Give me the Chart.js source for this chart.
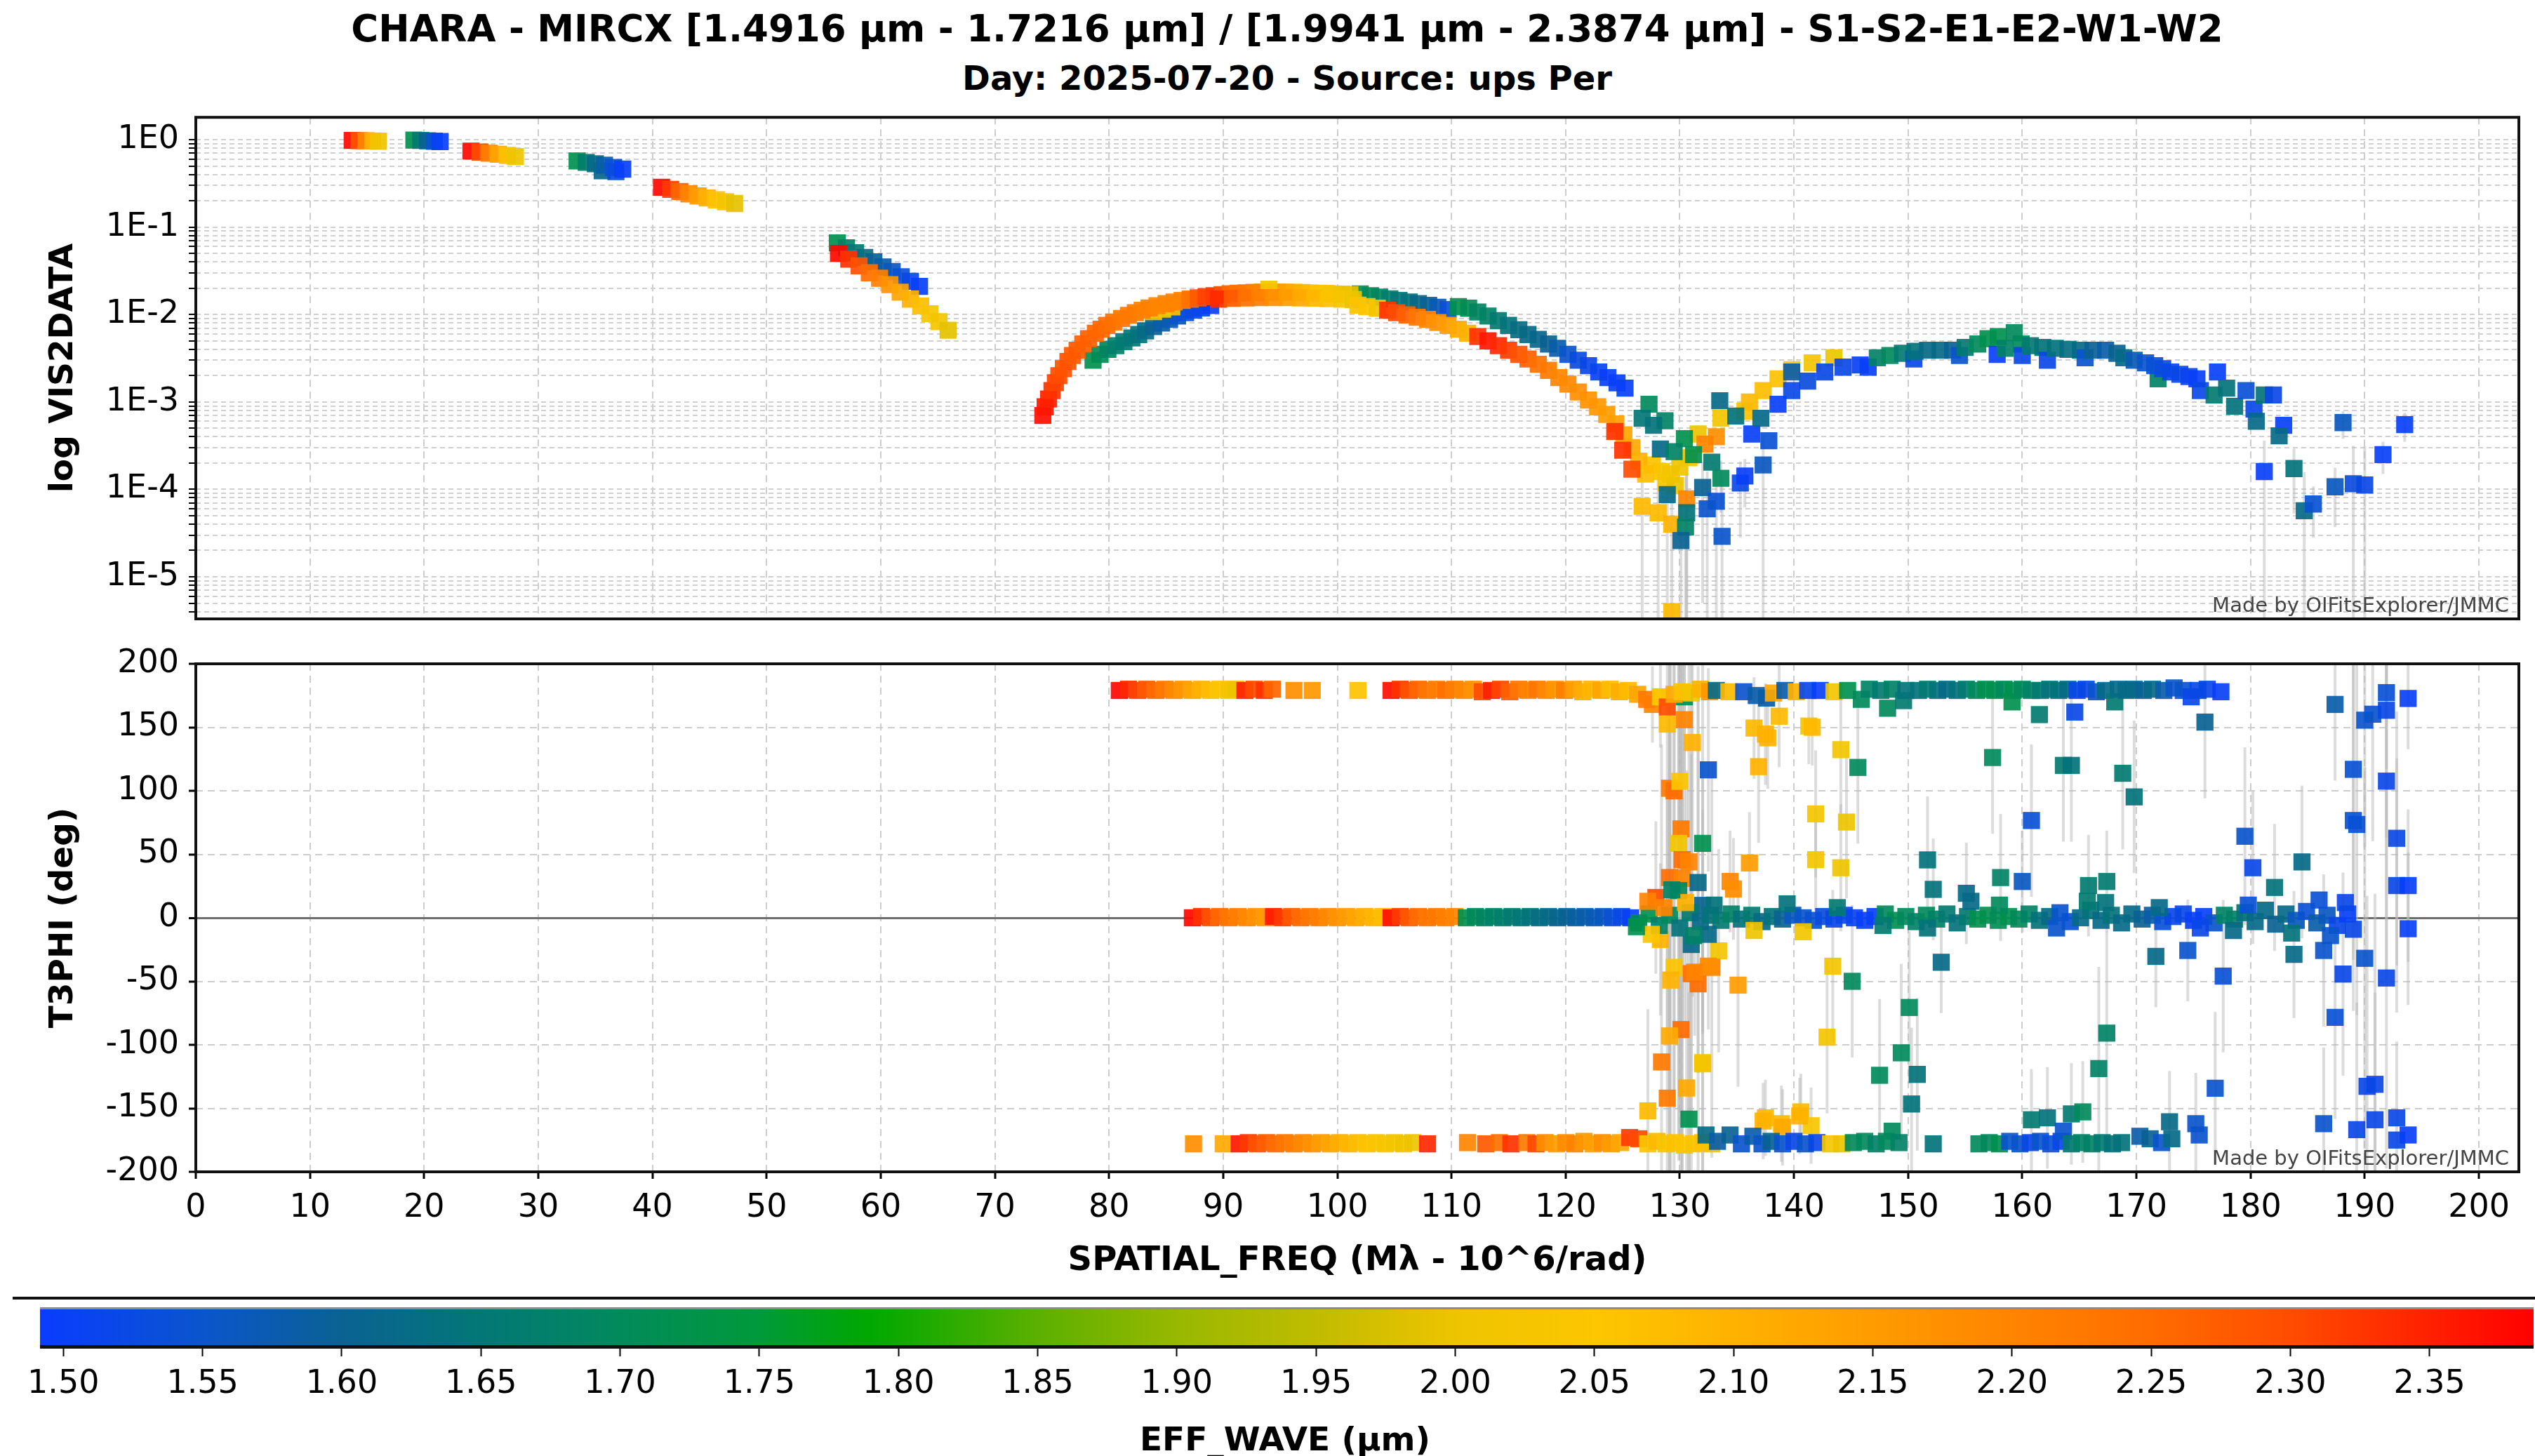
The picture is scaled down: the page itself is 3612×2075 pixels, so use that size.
<!DOCTYPE html>
<html>
<head>
<meta charset="utf-8">
<title>CHARA - MIRCX - ups Per</title>
<script src="https://cdn.jsdelivr.net/npm/chart.js@4.4.1/dist/chart.umd.min.js"></script>
<style>
  html, body { margin: 0; padding: 0; background: #fff; }
  body { width: 3612px; height: 2075px; position: relative; overflow: hidden; font-family: 'DejaVu Sans', sans-serif; }
  .label { position: absolute; transform: translateX(-50%); white-space: nowrap; font-weight: bold; color: #000; line-height: normal; }
  .box { position: absolute; left: 0; width: 3612px; }
</style>
</head>
<body>
<div class="label" style="left:1834px;top:10px;font-size:53px">CHARA - MIRCX [1.4916 µm - 1.7216 µm] / [1.9941 µm - 2.3874 µm] - S1-S2-E1-E2-W1-W2</div>
<div class="label" style="left:1834px;top:83px;font-size:48px">Day: 2025-07-20 - Source: ups Per</div>

<div class="box" style="top:150px;height:750px"><canvas id="vis2"></canvas></div>
<div class="box" style="top:900px;height:930px"><canvas id="t3phi"></canvas></div>
<div style="position:absolute;left:18px;top:1848px;width:3594px;height:4px;background:#111"></div>
<div class="box" style="top:1850px;height:225px"><canvas id="cbar"></canvas></div>
<div class="label" style="left:1831px;top:2023px;font-size:47px">EFF_WAVE (µm)</div>

<script>
// axes
const freqMin = 0, freqMax = 203.5;
const freqTicks = [0, 10, 20, 30, 40, 50, 60, 70, 80, 90, 100, 110, 120, 130, 140, 150, 160, 170, 180, 190, 200];
const phiTicks = [-200, -150, -100, -50, 0, 50, 100, 150, 200];
const v2Min = 3.3e-6, v2Max = 1.8;
const v2Decades = [1e-6, 1e-5, 1e-4, 1e-3, 1e-2, 1e-1, 1];
const v2DecadeLabels = ['1E-6', '1E-5', '1E-4', '1E-3', '1E-2', '1E-1', '1E0'];
const waveMin = 1.4916, waveMax = 2.3874;
const waveTicks = [1.50, 1.55, 1.60, 1.65, 1.70, 1.75, 1.80, 1.85, 1.90, 1.95, 2.00, 2.05, 2.10, 2.15, 2.20, 2.25, 2.30, 2.35];

// colour scale for EFF_WAVE
const waveStops = [1.4916, 1.55, 1.60, 1.65, 1.70, 1.75, 1.79, 1.85, 1.90, 1.95, 2.00, 2.05, 2.10, 2.15, 2.20, 2.25, 2.30, 2.3874];
const waveStopColors = ['#0a3cff', '#0a55cc', '#0a6292', '#037776', '#028a5c', '#00993a', '#00a800', '#5cb000', '#98b800', '#c0bc00', '#eec400', '#fcc600', '#ffb200', '#ff9c00', '#ff8400', '#ff6c00', '#ff4c00', '#ff0000'];

const watermark = 'Made by OIFitsExplorer/JMMC';

// VIS2DATA rows: [spatial freq, vis2, eff_wave, error]
const v2Short = [
  [13.7, 0.98, 2.38], [14.3, 0.975, 2.29], [14.9, 0.97, 2.20], [15.5, 0.965, 2.10], [16.0, 0.96, 2.01],
  [19.1, 0.99, 1.72], [19.7, 0.98, 1.66], [20.3, 0.97, 1.60], [20.9, 0.96, 1.54], [21.4, 0.95, 1.50],
  [24.1, 0.74, 2.38], [24.9, 0.72, 2.30], [25.7, 0.70, 2.21], [26.5, 0.68, 2.13], [27.3, 0.66, 2.06], [28.0, 0.64, 2.00],
  [33.4, 0.57, 1.72], [34.2, 0.55, 1.67], [35.0, 0.53, 1.62], [35.6, 0.44, 1.61], [35.8, 0.51, 1.58], [36.6, 0.48, 1.54], [36.8, 0.43, 1.53], [37.4, 0.46, 1.50],
  [40.8, 0.285, 2.38], [41.6, 0.27, 2.32], [42.4, 0.255, 2.26], [43.2, 0.24, 2.20], [44.0, 0.227, 2.15], [44.8, 0.215, 2.10], [45.6, 0.205, 2.06], [46.4, 0.195, 2.02], [47.2, 0.186, 1.99]
];
const v2MidK = [
  [56.3, 0.050, 2.38], [57.2, 0.043, 2.33], [58.1, 0.036, 2.29], [59.0, 0.030, 2.25], [59.9, 0.026, 2.21], [60.8, 0.022, 2.17],
  [61.7, 0.018, 2.13], [62.6, 0.015, 2.10], [63.5, 0.0125, 2.07], [64.3, 0.0102, 2.04], [65.1, 0.0083, 2.02], [65.9, 0.0066, 1.99]
];
const v2MidH = [
  [56.2, 0.066, 1.72], [57.0, 0.058, 1.69], [57.8, 0.051, 1.66], [58.6, 0.045, 1.63], [59.4, 0.040, 1.60],
  [60.2, 0.035, 1.58], [61.0, 0.031, 1.56], [61.8, 0.027, 1.54], [62.6, 0.024, 1.52], [63.4, 0.021, 1.50]
];
const v2ArcK = [
  [83.9, 0.0108, 2.03], [84.7, 0.0115, 2.02], [85.5, 0.0122, 2.02],
  [74.2, 7.0e-4, 2.37], [74.4, 8.8e-4, 2.36], [74.7, 1.08e-3, 2.35], [75.0, 1.35e-3, 2.33], [75.3, 1.66e-3, 2.31], [75.6, 2.0e-3, 2.30],
  [76.0, 2.4e-3, 2.29], [76.4, 2.9e-3, 2.29], [76.8, 3.4e-3, 2.28], [77.2, 3.9e-3, 2.28], [77.7, 4.6e-3, 2.27], [78.2, 5.3e-3, 2.27],
  [78.8, 6.1e-3, 2.26], [79.3, 6.8e-3, 2.26], [79.8, 7.5e-3, 2.25], [80.4, 8.2e-3, 2.24], [81.1, 9.0e-3, 2.23], [81.7, 9.8e-3, 2.22],
  [82.3, 0.0105, 2.22], [82.9, 0.0112, 2.21], [83.5, 0.0119, 2.21], [84.2, 0.0126, 2.20], [85.0, 0.0133, 2.20], [85.7, 0.0139, 2.20],
  [86.4, 0.0145, 2.20], [87.1, 0.0150, 2.24], [87.8, 0.0155, 2.28], [88.5, 0.0160, 2.31], [89.2, 0.0164, 2.32], [89.9, 0.0169, 2.29],
  [90.6, 0.0173, 2.26], [91.3, 0.0175, 2.24], [92.0, 0.0177, 2.23], [92.7, 0.0179, 2.21], [93.4, 0.0180, 2.20], [94.1, 0.0181, 2.18],
  [94.8, 0.0181, 2.16], [95.5, 0.0180, 2.14], [96.2, 0.0179, 2.12], [96.9, 0.0178, 2.10], [97.6, 0.0176, 2.08], [98.3, 0.0175, 2.06],
  [99.0, 0.0174, 2.04], [99.7, 0.0172, 2.02], [100.4, 0.0171, 2.01], [101.1, 0.0169, 1.995], [94.0, 0.0195, 2.02],
  [89.6, 0.0150, 2.34], [90.8, 0.0153, 2.28], [92.0, 0.0155, 2.24], [93.2, 0.0156, 2.21], [94.4, 0.0156, 2.18], [95.6, 0.0156, 2.15],
  [96.8, 0.0155, 2.12], [98.0, 0.0154, 2.09], [99.2, 0.0152, 2.06], [100.4, 0.0150, 2.03], [101.4, 0.0148, 2.00],
  [101.8, 0.0128, 2.06], [102.6, 0.0123, 2.05], [103.5, 0.0118, 2.02], [104.4, 0.0112, 2.33], [105.2, 0.0105, 2.30], [106.1, 0.0099, 2.27],
  [107.0, 0.0093, 2.23], [107.9, 0.0088, 2.20], [108.8, 0.0081, 2.17], [109.7, 0.0075, 2.15], [110.6, 0.0068, 2.12], [111.4, 0.0061, 2.10],
  [112.3, 0.0056, 2.33], [113.2, 5.0e-3, 2.36], [114.1, 4.4e-3, 2.34], [115.0, 3.9e-3, 2.32], [115.9, 3.5e-3, 2.29], [116.7, 3.1e-3, 2.27],
  [117.6, 2.7e-3, 2.24], [118.5, 2.3e-3, 2.22], [119.4, 1.9e-3, 2.20], [120.2, 1.6e-3, 2.19], [121.1, 1.3e-3, 2.18], [122.0, 1.05e-3, 2.17],
  [122.8, 8.8e-4, 2.16], [123.6, 7.2e-4, 2.15], [124.4, 5.6e-4, 2.14], [125.1, 4.2e-4, 2.13], [125.8, 3.0e-4, 2.12], [126.4, 2.1e-4, 2.10],
  [127.0, 1.5e-4, 2.07], [124.3, 4.6e-4, 2.33], [125.0, 2.8e-4, 2.33], [125.8, 1.7e-4, 2.30]
];
const v2ArcH = [
  [78.6, 3.0e-3, 1.72], [79.2, 3.5e-3, 1.71], [79.9, 4.0e-3, 1.69], [80.6, 4.4e-3, 1.67], [81.3, 4.9e-3, 1.66], [82.0, 5.4e-3, 1.65],
  [82.6, 5.9e-3, 1.64], [83.2, 6.5e-3, 1.62], [83.9, 7.3e-3, 1.60], [84.6, 8.0e-3, 1.58], [85.3, 8.8e-3, 1.57], [86.0, 9.6e-3, 1.55],
  [86.7, 0.0105, 1.54], [87.4, 0.0112, 1.52], [88.1, 0.0119, 1.51], [88.9, 0.0127, 1.50],
  [102.0, 0.0172, 1.72], [102.9, 0.0164, 1.70], [103.7, 0.0158, 1.69], [104.6, 0.0151, 1.67], [105.4, 0.0145, 1.65], [106.3, 0.0139, 1.64],
  [107.1, 0.0133, 1.62], [108.0, 0.0127, 1.60], [108.8, 0.0121, 1.57], [109.7, 0.0114, 1.54], [110.6, 0.0123, 1.72], [111.5, 0.0118, 1.71],
  [112.3, 0.0107, 1.69], [113.2, 9.6e-3, 1.68], [114.1, 8.5e-3, 1.66], [115.0, 7.5e-3, 1.64], [115.9, 6.7e-3, 1.63], [116.7, 5.9e-3, 1.62],
  [117.6, 5.2e-3, 1.61], [118.5, 4.6e-3, 1.60], [119.3, 4.1e-3, 1.58], [120.2, 3.5e-3, 1.55], [121.1, 3.0e-3, 1.53], [122.0, 2.6e-3, 1.52],
  [122.9, 2.2e-3, 1.51], [123.7, 1.9e-3, 1.50], [124.5, 1.65e-3, 1.50], [125.2, 1.44e-3, 1.50]
];
const v2Null = [
  [127.6, 1.9e-4, 2.06], [128.4, 1.6e-4, 2.04], [129.2, 1.5e-4, 2.02], [130.0, 1.8e-4, 2.01], [128.8, 1.2e-4, 2.03], [129.6, 1.1e-4, 2.00],
  [130.8, 2.3e-4, 2.02], [126.7, 6.4e-5, 2.08, 1e-4], [128.1, 5.4e-5, 2.08, 1e-4], [129.3, 4.0e-5, 2.10, 1e-4], [130.6, 7.8e-5, 2.20, 1e-4],
  [129.3, 4.0e-6, 2.08], [131.6, 4.3e-4, 2.00], [133.2, 4.0e-4, 2.18], [132.2, 3.3e-4, 2.20], [133.6, 6.5e-4, 2.02],
  [135.7, 7.8e-4, 2.06], [136.1, 1.0e-3, 2.08], [137.3, 1.35e-3, 2.07], [138.6, 1.84e-3, 2.06], [139.8, 2.34e-3, 2.04], [141.6, 2.8e-3, 2.02], [143.5, 3.2e-3, 2.00],
  [127.3, 9.4e-4, 1.70], [126.7, 6.5e-4, 1.65], [128.7, 6.1e-4, 1.68], [127.7, 5.4e-4, 1.64], [130.4, 3.8e-4, 1.72], [128.3, 2.9e-4, 1.62],
  [129.5, 2.7e-4, 1.68], [131.2, 2.5e-4, 1.72], [132.8, 2.05e-4, 1.66], [133.6, 1.34e-4, 1.70, 8e-5], [132.0, 1.05e-4, 1.60, 1e-4],
  [133.2, 7.3e-5, 1.54, 1e-4], [132.4, 6.0e-5, 1.55, 1e-4], [135.3, 1.18e-4, 1.52, 9e-5], [135.7, 1.42e-4, 1.50, 8e-5],
  [128.9, 8.7e-5, 1.62, 1e-4], [130.6, 5.4e-5, 1.64, 1e-4], [130.5, 3.7e-5, 1.68, 1e-4], [130.1, 2.6e-5, 1.60, 1e-4], [133.7, 2.9e-5, 1.55, 1e-4],
  [133.5, 1.03e-3, 1.62], [134.9, 6.9e-4, 1.64], [136.3, 4.3e-4, 1.50], [137.8, 3.6e-4, 1.54], [137.3, 1.9e-4, 1.56, 2e-4], [137.1, 6.5e-4, 1.62],
  [138.6, 9.4e-4, 1.50], [139.8, 1.35e-3, 1.52], [141.2, 1.73e-3, 1.53], [139.8, 2.2e-3, 1.58], [142.7, 2.2e-3, 1.52], [144.3, 2.5e-3, 1.52]
];
const v2Tail = [
  [145.8, 2.65e-3, 1.50], [146.5, 2.5e-3, 1.50], [147.3, 3.2e-3, 1.68], [148.4, 3.4e-3, 1.70], [149.5, 3.6e-3, 1.66], [150.5, 3.1e-3, 1.52],
  [150.6, 3.8e-3, 1.64], [151.7, 3.9e-3, 1.62], [152.8, 3.9e-3, 1.62], [153.9, 3.9e-3, 1.60], [154.5, 3.4e-3, 1.55], [155.0, 4.2e-3, 1.66],
  [156.1, 4.6e-3, 1.70], [157.0, 5.3e-3, 1.72], [157.8, 3.5e-3, 1.50], [157.9, 5.6e-3, 1.72], [158.5, 4.1e-3, 1.68], [159.3, 6.2e-3, 1.70],
  [159.9, 4.6e-3, 1.70], [160.0, 3.4e-3, 1.52], [160.7, 4.4e-3, 1.66], [161.8, 4.2e-3, 1.64], [162.2, 3.0e-3, 1.52], [162.9, 4.1e-3, 1.64],
  [164.0, 4.0e-3, 1.63], [165.1, 3.9e-3, 1.62], [165.5, 3.2e-3, 1.55], [166.2, 3.9e-3, 1.60], [167.3, 3.9e-3, 1.58], [168.3, 3.6e-3, 1.60],
  [168.9, 3.2e-3, 1.62], [169.8, 3.0e-3, 1.57], [170.8, 2.8e-3, 1.55], [171.9, 1.84e-3, 1.68], [171.6, 2.6e-3, 1.54], [172.3, 2.4e-3, 1.53],
  [173.0, 2.2e-3, 1.52], [173.8, 2.07e-3, 1.52], [174.6, 1.95e-3, 1.51], [175.3, 1.84e-3, 1.50], [175.6, 1.35e-3, 1.52], [176.8, 1.2e-3, 1.66],
  [177.1, 2.2e-3, 1.50], [177.9, 1.44e-3, 1.64], [178.6, 8.9e-4, 1.64], [179.6, 1.35e-3, 1.54], [180.3, 8.3e-4, 1.52], [181.2, 1.2e-3, 1.64],
  [182.0, 1.2e-3, 1.52], [180.5, 6.0e-4, 1.62], [182.9, 5.4e-4, 1.50], [182.5, 4.1e-4, 1.62],
  [181.2, 1.6e-4, 1.50, 2e-4], [183.8, 1.73e-4, 1.64, 1.2e-4], [184.7, 5.7e-5, 1.62, 1e-4], [185.5, 6.8e-5, 1.54, 4e-5],
  [187.4, 1.07e-4, 1.56, 7e-5], [189.0, 1.16e-4, 1.53, 2e-4], [190.0, 1.12e-4, 1.52, 2e-4], [191.6, 2.5e-4, 1.50, 1e-4],
  [188.1, 5.8e-4, 1.56, 2e-4], [193.5, 5.5e-4, 1.50, 2e-4]
];

// T3PHI rows: [spatial freq, phase (deg), eff_wave, error]
const t3Top = [
  [80.9, 179, 2.38], [81.7, 180, 2.34], [82.5, 179, 2.31], [83.3, 180, 2.28], [84.1, 179, 2.25], [84.9, 180, 2.22], [85.7, 179, 2.19],
  [86.5, 180, 2.16], [87.3, 179, 2.13], [88.1, 180, 2.10], [88.9, 179, 2.07], [89.7, 180, 2.05], [90.5, 179, 2.02], [91.1, 180, 2.00],
  [91.9, 179, 2.35], [92.7, 180, 2.30], [93.6, 179, 2.33], [94.3, 180, 2.26], [96.2, 179, 2.18], [97.8, 179, 2.16], [101.8, 179, 2.06],
  [104.7, 179, 2.37], [105.5, 180, 2.33], [106.3, 179, 2.29], [107.1, 180, 2.26], [107.9, 179, 2.23], [108.7, 180, 2.21], [109.5, 179, 2.24],
  [110.3, 180, 2.21], [111.1, 179, 2.19], [111.9, 180, 2.17], [112.7, 178, 2.30], [113.5, 179, 2.35], [114.3, 180, 2.31], [115.1, 178, 2.27],
  [115.9, 180, 2.23], [116.7, 179, 2.20], [117.5, 180, 2.23], [118.3, 179, 2.19], [119.1, 180, 2.16], [119.9, 179, 2.21], [120.7, 180, 2.14],
  [121.5, 178, 2.11], [122.3, 180, 2.09], [123.1, 179, 2.13], [123.9, 180, 2.07], [124.7, 178, 2.11], [125.5, 179, 2.08], [126.3, 176, 2.13],
  [127.1, 172, 2.22], [128.3, 174, 2.05], [128.9, 166, 2.30], [129.5, 176, 2.12], [130.2, 178, 2.06], [131.0, 177, 2.02], [131.8, 180, 2.10],
  [132.6, 178, 2.16], [133.2, 179, 1.62], [134.3, 178, 2.08], [135.6, 178, 1.55], [136.7, 175, 1.58], [137.6, 173, 1.58], [138.2, 177, 2.12],
  [139.2, 179, 1.58], [140.2, 178, 2.10], [141.2, 179, 1.52], [142.3, 179, 1.50], [143.5, 178, 2.02], [144.7, 179, 1.72], [145.9, 172, 1.70],
  [146.6, 180, 1.68], [148.2, 165, 1.70], [147.6, 179, 1.66], [148.6, 180, 1.68], [149.6, 171, 1.66], [149.8, 179, 1.64], [150.9, 179, 1.64],
  [151.7, 180, 1.66], [152.6, 179, 1.64], [153.4, 180, 1.62], [154.3, 179, 1.64], [155.1, 180, 1.66], [156.0, 179, 1.70], [156.8, 180, 1.72],
  [157.6, 179, 1.72], [158.4, 180, 1.70], [159.1, 170, 1.72], [159.2, 179, 1.72], [160.0, 180, 1.70], [160.8, 179, 1.68], [161.5, 160, 1.66],
  [161.6, 179, 1.66], [162.4, 180, 1.64], [163.2, 179, 1.64], [164.0, 180, 1.62], [164.6, 162, 1.52], [164.8, 179, 1.52], [165.6, 180, 1.52],
  [166.5, 178, 1.55], [167.3, 179, 1.62], [168.1, 170, 1.66], [168.4, 180, 1.62], [169.1, 179, 1.62], [169.8, 180, 1.62], [170.6, 179, 1.60],
  [171.4, 180, 1.62], [172.4, 179, 1.58], [173.3, 181, 1.55], [174.1, 179, 1.55], [174.8, 174, 1.52], [175.4, 179, 1.52], [176.2, 180, 1.52],
  [177.4, 178, 1.50]
];
const t3Zero = [
  [87.3, 0, 2.38], [88.1, 1, 2.33], [88.9, 0, 2.29], [89.7, 1, 2.26], [90.5, 0, 2.23], [91.3, 1, 2.21], [92.1, 0, 2.19], [92.9, 1, 2.17],
  [93.7, 0, 2.15], [94.4, 1, 2.36], [95.2, 0, 2.32], [96.0, 1, 2.28], [96.8, 0, 2.25], [97.6, 1, 2.23], [98.4, 0, 2.21], [99.2, 1, 2.19],
  [100.0, 0, 2.17], [100.8, 1, 2.15], [101.6, 0, 2.13], [102.4, 1, 2.11], [103.2, 0, 2.09], [104.0, 1, 2.07], [104.7, 0, 2.37], [105.5, 1, 2.32],
  [106.3, 0, 2.28], [107.1, 1, 2.25], [107.9, 0, 2.23], [108.7, 1, 2.22], [109.5, 0, 2.21], [110.3, 1, 2.20],
  [111.3, 0, 1.72], [112.1, 1, 1.70], [112.9, 0, 1.69], [113.7, 1, 1.68], [114.5, 0, 1.67], [115.3, 1, 1.66], [116.1, 0, 1.65], [116.9, 1, 1.64],
  [117.7, 0, 1.63], [118.5, 1, 1.62], [119.3, 0, 1.61], [120.1, 1, 1.60], [120.9, 0, 1.59], [121.7, 1, 1.58], [122.5, 0, 1.57], [123.3, 1, 1.56],
  [124.1, 0, 1.54], [124.9, 1, 1.52], [125.7, 0, 1.50],
  [126.4, -4, 1.70], [127.3, 3, 1.72], [128.2, -6, 1.68], [129.1, 2, 1.70], [130.0, -8, 1.64], [130.9, 4, 1.66], [131.8, -3, 1.62], [132.7, 2, 1.64],
  [133.6, -2, 1.66], [134.5, 3, 1.68], [135.4, -1, 1.64], [136.3, 2, 1.66], [137.2, -3, 1.62], [138.1, 1, 1.64], [139.0, -1, 1.60], [139.9, 2, 1.56],
  [140.8, 0, 1.55], [141.7, -2, 1.54], [142.6, 1, 1.53], [143.5, -1, 1.52], [144.4, 2, 1.52], [145.3, 0, 1.51], [146.2, -2, 1.50], [147.1, 1, 1.50],
  [148.0, 3, 1.70], [148.9, -2, 1.71], [149.8, 1, 1.70], [150.7, -3, 1.68], [151.6, 2, 1.70], [152.5, -1, 1.68], [153.4, 3, 1.66], [154.3, -4, 1.64],
  [155.2, 1, 1.66], [156.1, -1, 1.72], [157.0, 2, 1.72], [157.9, -2, 1.71], [158.8, 1, 1.72], [159.7, -1, 1.70], [160.6, 3, 1.68], [161.5, -2, 1.64],
  [162.4, 1, 1.62], [163.3, 4, 1.55], [164.2, -3, 1.54], [165.1, 0, 1.62], [166.0, 6, 1.64], [166.9, -2, 1.62], [167.8, 2, 1.64], [168.7, -4, 1.62],
  [169.6, 3, 1.62], [170.5, -1, 1.60], [171.4, 2, 1.58], [172.3, -3, 1.54], [173.2, 1, 1.52], [174.1, 3, 1.52], [175.0, -2, 1.50], [175.9, 1, 1.50],
  [176.8, -4, 1.55], [177.7, 2, 1.68], [178.6, -1, 1.68], [179.5, 4, 1.64], [180.4, -3, 1.62], [181.3, 6, 1.62], [182.2, -5, 1.60], [183.1, 3, 1.62],
  [184.0, -2, 1.56], [184.9, 5, 1.54], [185.8, -4, 1.58], [186.7, 2, 1.56], [187.6, -6, 1.52], [188.5, 3, 1.50], [189.0, -9, 1.52],
  [132.5, -13, 1.62], [136.5, -10, 2.00], [140.8, -11, 2.02], [139.4, 11, 1.64], [143.8, 8, 1.66], [151.7, -8, 1.64], [158.0, 10, 1.70],
  [165.7, 13, 1.66], [167.3, 12, 1.64], [172.0, 8, 1.62], [178.5, -10, 1.62], [183.6, -12, 1.64], [186.0, 14, 1.54], [188.3, 12, 1.52],
  [187.0, -14, 1.55], [175.6, -8, 1.52], [179.8, 10, 1.54], [163.0, -8, 1.55], [155.5, 13, 1.62], [147.8, -6, 1.66], [133.0, 10, 1.64],
  [130.5, 12, 2.10], [131.2, -14, 1.68], [127.5, -13, 2.05], [128.6, 8, 2.20], [126.2, -7, 1.72], [127.2, 13, 2.20], [129.3, 22, 1.68]
];
const t3Bottom = [
  [87.4, -178, 2.18], [90.0, -178, 2.12],
  [91.4, -178, 2.36], [92.2, -177, 2.32], [93.0, -178, 2.29], [93.8, -177, 2.27], [94.6, -178, 2.25], [95.4, -177, 2.23], [96.2, -178, 2.21],
  [97.0, -177, 2.19], [97.8, -178, 2.17], [98.6, -177, 2.15], [99.4, -178, 2.13], [100.2, -177, 2.11], [101.0, -178, 2.09], [101.8, -177, 2.07],
  [102.6, -178, 2.06], [103.4, -177, 2.05], [104.2, -178, 2.04], [105.0, -177, 2.02], [105.8, -178, 2.01], [106.6, -177, 2.00],
  [107.9, -178, 2.34], [111.4, -177, 2.20], [113.0, -178, 2.28], [114.2, -177, 2.24], [115.2, -178, 2.33], [116.6, -177, 2.22], [117.4, -178, 2.30],
  [118.2, -177, 2.18], [119.2, -178, 2.15], [120.0, -177, 2.18], [120.8, -178, 2.20], [121.6, -176, 2.16], [122.4, -178, 2.14], [123.2, -177, 2.18],
  [124.0, -178, 2.15], [124.8, -177, 2.12], [125.6, -173, 2.32], [126.4, -174, 2.30], [127.2, -178, 2.05], [128.0, -176, 2.08], [128.8, -178, 2.03],
  [129.6, -177, 2.06], [130.4, -179, 2.05], [131.2, -178, 2.04], [132.0, -177, 2.06], [132.8, -178, 2.02],
  [132.3, -171, 1.62], [133.3, -176, 1.58], [134.4, -171, 1.60], [135.4, -178, 1.55], [136.4, -172, 1.58], [137.2, -178, 1.55], [138.0, -176, 1.60],
  [139.0, -178, 1.55], [140.0, -176, 1.52], [141.0, -178, 1.55], [142.0, -177, 1.52], [143.2, -178, 2.02], [144.2, -178, 2.00],
  [145.2, -177, 1.70], [146.2, -176, 1.70], [147.2, -178, 1.68], [148.1, -176, 1.70], [148.6, -168, 1.70], [149.2, -177, 1.68], [152.2, -178, 1.64],
  [156.2, -178, 1.70], [157.1, -177, 1.70], [158.0, -178, 1.72], [158.9, -176, 1.55], [159.8, -178, 1.55], [160.7, -177, 1.52], [161.6, -176, 1.55],
  [162.5, -178, 1.54], [163.4, -176, 1.52], [163.6, -168, 1.55], [164.3, -178, 1.66], [165.2, -177, 1.68], [166.1, -178, 1.68], [167.0, -177, 1.66],
  [167.9, -178, 1.64], [168.7, -177, 1.64], [170.3, -172, 1.58], [171.2, -174, 1.60], [172.2, -177, 1.55], [173.1, -174, 1.62], [175.5, -171, 1.55],
  [192.8, -175, 1.52], [193.8, -171, 1.50]
];
const t3Scatter = [
  [127.6, 168, 2.20, 30], [128.3, 174, 2.05, 40], [128.9, 152.5, 2.08, 250], [130.4, 156, 2.20, 250], [131.1, 138, 2.10, 200], [130.4, 174, 1.72, 60],
  [129.1, 102, 2.22, 250], [129.5, 100, 2.25, 250], [130.0, 107.5, 2.05, 250], [132.5, 116.5, 1.55, 80],
  [130.1, 70, 2.22, 250], [129.9, 58.6, 2.02, 250], [132.0, 58.6, 1.72, 150],
  [130.2, 45.8, 2.25, 250], [130.8, 44, 2.20, 250], [129.1, 31.7, 2.25, 250], [130.2, 31, 2.20, 250], [131.6, 27.8, 1.62, 150],
  [127.9, 16, 2.30, 60], [129.9, 21.4, 1.70, 200], [132.0, 9.8, 1.60, 100],
  [131.0, -21, 1.62, 150], [128.3, -17, 2.10, 60], [133.4, -26, 2.02, 80],
  [129.5, -39, 2.05, 250], [129.2, -49, 2.10, 250], [131.0, -44, 2.25, 250], [131.6, -52, 2.25, 250], [132.8, -39, 2.20, 150], [135.1, -53, 2.15, 80],
  [130.1, -88, 2.25, 250], [129.1, -93, 2.12, 250], [128.4, -113.5, 2.22, 250], [132.0, -115, 2.02, 200], [128.9, -142, 2.22, 250],
  [130.6, -134, 2.12, 250], [127.2, -152, 2.08, 80], [130.8, -158.5, 1.72, 100],
  [136.5, 149.4, 2.08, 40], [137.7, 141.7, 2.10, 40], [138.7, 158.7, 2.08, 40], [141.3, 151, 2.02, 30], [141.6, 150, 2.08, 30], [137.5, 144.7, 2.10, 40],
  [136.9, 119, 2.10, 60], [144.1, 132.4, 2.02, 50], [145.6, 118.4, 1.70, 60],
  [141.9, 81.8, 2.02, 50], [144.6, 75.4, 2.00, 60], [136.1, 43.2, 2.15, 40], [141.9, 45.8, 2.02, 40], [144.1, 39.4, 2.00, 50],
  [134.4, 28.6, 2.20, 40], [134.7, 22.7, 2.18, 40],
  [132.5, -38, 2.18, 50], [131.3, -42.8, 2.20, 50], [143.4, -38.1, 2.02, 60], [145.1, -50, 1.70, 60],
  [150.1, -70.6, 1.70, 60], [142.9, -94, 2.02, 60], [149.4, -106.3, 1.70, 70], [132.0, -114, 2.02, 100], [147.5, -124, 1.70, 60],
  [150.8, -123.3, 1.64, 60], [150.3, -146.6, 1.64, 60],
  [137.5, -157.5, 2.08, 30], [138.9, -162.1, 2.08, 30], [140.6, -152.8, 2.08, 30], [141.5, -163.7, 2.04, 30], [137.3, -160, 2.10, 30],
  [139.0, -165, 2.12, 30], [140.5, -156, 2.10, 30],
  [151.7, 45.6, 1.64, 50], [152.2, 22.4, 1.64, 40], [155.1, 19.3, 1.62, 40], [152.9, -35, 1.62, 40], [157.4, 126.2, 1.70, 60],
  [158.1, 31.7, 1.68, 50], [160.0, 28.6, 1.56, 40], [160.8, 76.6, 1.54, 60], [163.6, 120, 1.66, 60], [164.3, 120, 1.64, 60],
  [165.8, 25.4, 1.66, 40], [167.4, 28.6, 1.66, 40], [168.8, 113.8, 1.66, 60], [169.8, 95.2, 1.64, 60], [167.4, -90.8, 1.68, 80],
  [166.7, -118.7, 1.68, 80], [160.8, -159, 1.66, 40], [162.2, -157.5, 1.64, 40], [164.3, -154.4, 1.66, 40], [165.3, -152.8, 1.70, 40],
  [171.7, -30.4, 1.62, 40], [174.5, -25.7, 1.55, 40], [172.9, -160.6, 1.62, 40], [175.2, -162.1, 1.55, 40], [176.0, 154.1, 1.60, 60],
  [176.9, -134.2, 1.55, 60], [177.6, -45.9, 1.54, 60], [179.5, 64.2, 1.55, 70], [180.2, 39.4, 1.52, 60], [182.1, 23.9, 1.64, 50],
  [183.8, -28.8, 1.62, 50], [184.5, 44, 1.62, 60], [186.4, -25.7, 1.55, 60], [186.4, -162.1, 1.55, 60], [187.4, -78.4, 1.54, 80],
  [188.1, -44.3, 1.52, 80], [187.4, 168, 1.58, 60], [189.0, 116.9, 1.54, 150], [189.0, 76.6, 1.54, 150], [189.3, 73.5, 1.54, 150],
  [189.3, -166.8, 1.52, 100], [190.0, -31.9, 1.55, 150], [190.0, 155.6, 1.55, 100], [190.7, 160.3, 1.55, 100], [190.2, -132.7, 1.52, 150],
  [190.9, -131.1, 1.52, 150], [190.9, -159, 1.52, 100], [191.9, 107.6, 1.52, 150], [191.9, 163.4, 1.52, 100], [191.9, 177.3, 1.54, 60],
  [191.9, -47.4, 1.52, 150], [192.8, 62.6, 1.52, 100], [192.8, 25.4, 1.52, 100], [192.8, -157.5, 1.52, 60], [193.8, 25.4, 1.50, 60],
  [193.8, -8.6, 1.50, 60], [193.8, 172.7, 1.50, 40]
];

Chart.defaults.font.family = "'DejaVu Sans', sans-serif";
Chart.defaults.color = '#000';

function hexRgb(h) {
  const n = parseInt(h.slice(1), 16);
  return [n >> 16, (n >> 8) & 255, n & 255];
}

function waveColor(w, alpha) {
  let i = 1;
  while (i < waveStops.length - 1 && w > waveStops[i]) i++;
  const t = Math.max(0, Math.min(1, (w - waveStops[i - 1]) / (waveStops[i] - waveStops[i - 1])));
  const a = hexRgb(waveStopColors[i - 1]), b = hexRgb(waveStopColors[i]);
  const c = a.map((v, k) => Math.round(v + (b[k] - v) * t));
  return 'rgba(' + c[0] + ',' + c[1] + ',' + c[2] + ',' + alpha + ')';
}

// one scatter dataset of square markers coloured by wavelength
function squares(rows) {
  return {
    data: rows.map(r => ({ x: r[0], y: r[1], w: r[2], err: r[3] || 0 })),
    pointStyle: 'rect',
    pointRadius: 17.2,
    pointBorderWidth: 0,
    pointBackgroundColor: c => waveColor(c.raw.w, 0.92),
    pointBorderColor: 'rgba(0,0,0,0)'
  };
}

// light grey vertical error bars under the markers
const errorBars = {
  id: 'errorBars',
  beforeDatasetsDraw(chart) {
    const { ctx, chartArea: a, scales: { x, y } } = chart;
    const isLog = y.type === 'logarithmic';
    ctx.save();
    ctx.beginPath();
    ctx.rect(a.left, a.top, a.width, a.height);
    ctx.clip();
    ctx.strokeStyle = 'rgba(185,185,185,0.5)';
    ctx.lineWidth = 4;
    chart.data.datasets.forEach(ds => ds.data.forEach(p => {
      if (!p.err) return;
      const px = x.getPixelForValue(p.x);
      const lo = p.y - p.err;
      const yLo = (isLog && lo <= 0) ? a.bottom : y.getPixelForValue(lo);
      const yHi = y.getPixelForValue(p.y + p.err);
      ctx.beginPath();
      ctx.moveTo(px, yLo);
      ctx.lineTo(px, yHi);
      ctx.stroke();
    }));
    ctx.restore();
  }
};

// black box round the plot area and the credit line
const frame = {
  id: 'frame',
  afterDraw(chart, args, opts) {
    const { ctx, chartArea: a } = chart;
    ctx.save();
    if (opts.mark) {
      ctx.fillStyle = '#444';
      ctx.font = "29px 'DejaVu Sans'";
      ctx.textAlign = 'right';
      ctx.textBaseline = 'alphabetic';
      ctx.fillText(opts.mark, a.right - 14, a.bottom - 10);
    }
    ctx.strokeStyle = '#111';
    ctx.lineWidth = 4;
    ctx.strokeRect(a.left, a.top, a.width, a.height);
    ctx.restore();
  }
};

const tickFont = { size: 46 };
const titleFont = { size: 47, weight: 'bold' };

function freqAxis(showLabels) {
  const axis = {
    type: 'linear',
    min: freqMin,
    max: freqMax,
    afterBuildTicks: s => { s.ticks = freqTicks.map(v => ({ value: v })); },
    grid: { color: '#cdcdcd', lineWidth: 2, drawTicks: showLabels, tickLength: 10, tickColor: '#000', tickWidth: 3 },
    border: { display: false, dash: [10, 7] },
    ticks: { display: showLabels, font: tickFont, padding: 14, maxRotation: 0, autoSkip: false, callback: v => String(v) }
  };
  if (showLabels) {
    axis.title = { display: true, text: 'SPATIAL_FREQ (Mλ - 10^6/rad)', font: { size: 48, weight: 'bold' }, color: '#000', padding: { top: 0, bottom: 4 } };
    axis.afterFit = s => { s.height = 160; s.paddingLeft = 0; s.paddingRight = 0; };
  } else {
    axis.afterFit = s => { s.height = 0; s.paddingLeft = 0; s.paddingRight = 0; };
  }
  return axis;
}

const common = {
  animation: false,
  events: [],
  responsive: true,
  maintainAspectRatio: false
};

new Chart(document.getElementById('vis2'), {
  type: 'scatter',
  data: {
    datasets: [squares(v2Short), squares(v2MidK), squares(v2MidH), squares(v2ArcK), squares(v2ArcH), squares(v2Null), squares(v2Tail)]
  },
  options: Object.assign({}, common, {
    layout: { padding: { left: 0, top: 10, right: 23, bottom: 18 } },
    plugins: { legend: { display: false }, tooltip: { enabled: false }, frame: { mark: watermark } },
    scales: {
      x: freqAxis(false),
      y: {
        type: 'logarithmic',
        min: v2Min,
        max: v2Max,
        afterBuildTicks: s => {
          const t = [];
          v2Decades.forEach(d => {
            for (let k = 1; k <= 9; k++) {
              const v = d * k;
              if (v >= s.min && v <= s.max) t.push({ value: v });
            }
          });
          s.ticks = t;
        },
        ticks: {
          font: tickFont,
          padding: 14,
          autoSkip: false,
          callback: v => {
            const i = v2Decades.findIndex(d => Math.abs(d - v) / d < 1e-6);
            return i >= 0 ? v2DecadeLabels[i] : '';
          }
        },
        grid: { color: '#d0d0d0', lineWidth: 2, tickLength: 10, tickColor: '#000', tickWidth: 2 },
        border: { display: false, dash: [7, 5] },
        title: { display: true, text: 'log VIS2DATA', font: titleFont, color: '#000', padding: { top: 63, bottom: 0 } },
        afterFit: s => { s.width = 279; s.paddingTop = 0; s.paddingBottom = 0; }
      }
    }
  }),
  plugins: [errorBars, frame]
});

new Chart(document.getElementById('t3phi'), {
  type: 'scatter',
  data: {
    datasets: [squares(t3Top), squares(t3Bottom), squares(t3Zero), squares(t3Scatter)]
  },
  options: Object.assign({}, common, {
    layout: { padding: { left: 0, top: 46, right: 23, bottom: 0 } },
    plugins: { legend: { display: false }, tooltip: { enabled: false }, frame: { mark: watermark } },
    scales: {
      x: freqAxis(true),
      y: {
        type: 'linear',
        min: -200,
        max: 200,
        afterBuildTicks: s => { s.ticks = phiTicks.map(v => ({ value: v })); },
        ticks: { font: tickFont, padding: 14, autoSkip: false, callback: v => String(v) },
        grid: {
          color: c => (c.tick && c.tick.value === 0) ? '#6e6e6e' : '#cdcdcd',
          lineWidth: c => (c.tick && c.tick.value === 0) ? 3 : 2,
          tickLength: 10, tickColor: '#000', tickWidth: 3
        },
        border: { display: false, dash: c => (c.tick && c.tick.value !== 0) ? [10, 7] : [] },
        title: { display: true, text: 'T3PHI (deg)', font: titleFont, color: '#000', padding: { top: 63, bottom: 0 } },
        afterFit: s => { s.width = 279; s.paddingTop = 0; s.paddingBottom = 0; }
      }
    }
  }),
  plugins: [errorBars, frame]
});

// colour bar for EFF_WAVE
const colorBar = {
  id: 'colorBar',
  beforeDatasetsDraw(chart) {
    const { ctx, chartArea: a, scales: { x } } = chart;
    const g = ctx.createLinearGradient(x.getPixelForValue(waveMin), 0, x.getPixelForValue(waveMax), 0);
    waveStops.forEach((w, i) => g.addColorStop((w - waveMin) / (waveMax - waveMin), waveStopColors[i]));
    ctx.save();
    ctx.fillStyle = g;
    ctx.fillRect(a.left, a.top, a.width, a.height);
    ctx.fillStyle = '#8c8c8c';
    ctx.fillRect(a.left, a.top, a.width, 3);
    ctx.fillStyle = '#111';
    ctx.fillRect(a.left, a.bottom - 5, a.width, 5);
    ctx.restore();
  }
};

new Chart(document.getElementById('cbar'), {
  type: 'scatter',
  data: { datasets: [] },
  options: Object.assign({}, common, {
    layout: { padding: { left: 57, top: 13, right: 2, bottom: 0 } },
    plugins: { legend: { display: false }, tooltip: { enabled: false } },
    scales: {
      x: {
        type: 'linear',
        min: waveMin,
        max: waveMax,
        afterBuildTicks: s => { s.ticks = waveTicks.map(v => ({ value: v })); },
        ticks: { font: tickFont, padding: 12, maxRotation: 0, autoSkip: false, callback: v => v.toFixed(2) },
        grid: { drawOnChartArea: false, tickLength: 11, tickColor: '#000', tickWidth: 2 },
        border: { display: false },
        afterFit: s => { s.height = 153; s.paddingLeft = 0; s.paddingRight = 0; }
      },
      y: { display: false, min: 0, max: 1 }
    }
  }),
  plugins: [colorBar]
});
</script>
</body>
</html>
